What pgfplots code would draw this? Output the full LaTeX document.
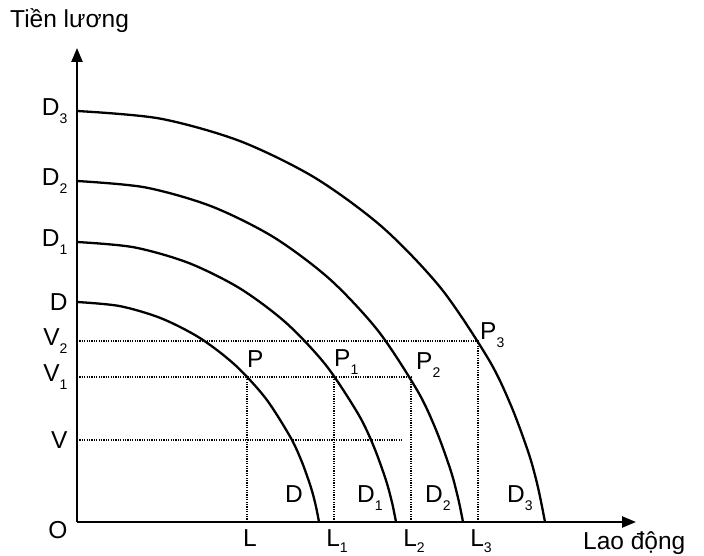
\documentclass[border=0pt]{standalone}
\usepackage{pgfplots}
\pgfplotsset{compat=1.18}
\usepackage{fontspec}
\setmainfont{Liberation Sans}
\usetikzlibrary{arrows.meta}
\newcommand\sub[1]{\raisebox{-0.6ex}{\fontsize{14}{14}\selectfont #1}}
\newcommand\subx[1]{\raisebox{-0.45ex}{\fontsize{14}{14}\selectfont #1}}
\begin{document}
\begin{tikzpicture}
\begin{axis}[
  scale only axis, width=559pt, height=474pt,
  xmin=0, xmax=559, ymin=0, ymax=474,
  axis x line=bottom, axis y line=left,
  axis line style={line width=2.5pt, -{Triangle[length=14pt,width=11pt]}},
  clip=false,
  xtick={170,257,334,401},
  xticklabels={L, L\subx{1}, L\subx{2}, L\subx{3}},
  ytick={82,145,181,220,280,341,411},
  yticklabels={V, V\sub{1}, V\sub{2}, D, D\sub{1}, D\sub{2}, D\sub{3}},
  major tick length=0pt,
  tick label style={font=\fontsize{24.5}{28}\selectfont},
  xticklabel style={inner sep=0.5pt, yshift=-7pt, xshift=3pt},
  yticklabel style={xshift=-6pt},
]
% demand curves
\addplot[black, line width=2.3pt, smooth] coordinates {
 (0,220) (42.8,215.9) (84.2,203.7) (123.2,183.8) (158.3,156.8) (188.7,123.6)
 (213.3,85) (225.0,59.8) (234.3,33.4) (239.0,15.3) (242,0)};
\addplot[black, line width=2.3pt, smooth] coordinates {
 (0,280) (56.4,274.8) (111.0,259.3) (162.4,233.9) (208.7,199.5) (248.7,157.1)
 (281.2,108) (296.6,75.9) (308.8,42.3) (315.1,19.2) (319,0)};
\addplot[black, line width=2.3pt, smooth] coordinates {
 (0,341) (68.2,334.6) (134.4,315.7) (196.5,284.9) (252.6,243.0) (301.0,191.3)
 (340.3,131.5) (358.9,92.4) (373.7,51.5) (381.2,23.4) (386,0)};
\addplot[black, line width=2.3pt, smooth] coordinates {
 (0,411) (82.5,403.5) (162.5,381.1) (237.5,344.5) (305.3,294.9) (363.9,233.8)
 (411.4,163) (433.9,116.7) (451.8,68.3) (460.9,35.0) (468,0)};
% dotted guide lines
\addplot[black, line width=1.4pt, dash pattern=on 1.2pt off 1.2pt] coordinates {(0,82) (325,82)};
\addplot[black, line width=1.4pt, dash pattern=on 1.2pt off 1.2pt] coordinates {(0,145) (334,145)};
\addplot[black, line width=1.4pt, dash pattern=on 1.2pt off 1.2pt] coordinates {(0,181) (401,181)};
\addplot[black, line width=1.4pt, dash pattern=on 1.2pt off 1.2pt] coordinates {(170,0) (170,145)};
\addplot[black, line width=1.4pt, dash pattern=on 1.2pt off 1.2pt] coordinates {(257,0) (257,145)};
\addplot[black, line width=1.4pt, dash pattern=on 1.2pt off 1.2pt] coordinates {(334,0) (334,145)};
\addplot[black, line width=1.4pt, dash pattern=on 1.2pt off 1.2pt] coordinates {(401,0) (401,181)};
% labels
\begin{scope}[font=\fontsize{24.5}{28}\selectfont]
\node[anchor=base west, inner sep=0pt] at (axis cs:-67,494) {Tiền lương};
\node[anchor=base west, inner sep=0pt] at (axis cs:506,-28) {Lao động};
\node[anchor=center, inner sep=0pt] at (axis cs:-19,-8) {O};
\node[anchor=base west, inner sep=0pt] at (axis cs:208,19) {D};
\node[anchor=base west, inner sep=0pt] at (axis cs:280,19) {D\sub{1}};
\node[anchor=base west, inner sep=0pt] at (axis cs:348,19) {D\sub{2}};
\node[anchor=base west, inner sep=0pt] at (axis cs:430,19) {D\sub{3}};
\node[anchor=base west, inner sep=0pt] at (axis cs:170,154) {P};
\node[anchor=base west, inner sep=0pt] at (axis cs:257,155) {P\sub{1}};
\node[anchor=base west, inner sep=0pt] at (axis cs:339,152) {P\sub{2}};
\node[anchor=base west, inner sep=0pt] at (axis cs:403,182) {P\sub{3}};
\end{scope}
\end{axis}
\pgfresetboundingbox
\path (-77pt,-34pt) rectangle (627pt,522pt);
\end{tikzpicture}
\end{document}
